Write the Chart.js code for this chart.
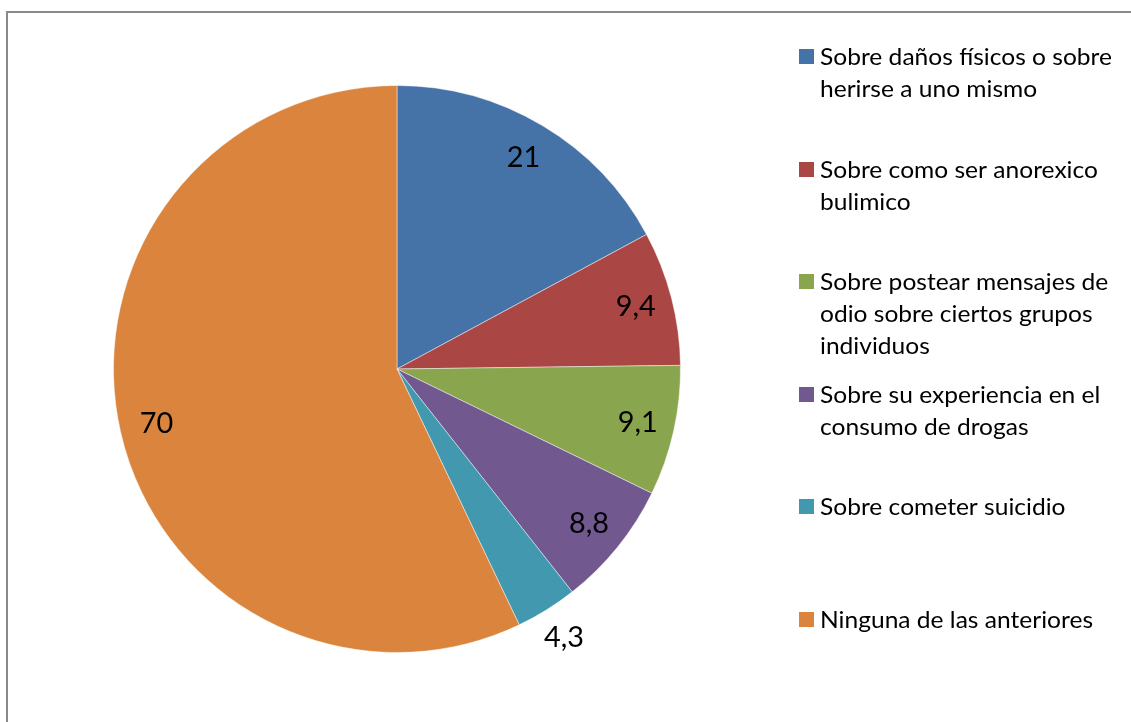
<!DOCTYPE html>
<html>
<head>
<meta charset="utf-8">
<script src="https://cdn.jsdelivr.net/npm/chart.js@4/dist/chart.umd.min.js"></script>
<style>
  html, body { margin: 0; padding: 0; background: #ffffff; }
  #wrap { width: 1131px; height: 722px; }
</style>
</head>
<body>
<div id="wrap"><canvas id="pie" width="1131" height="722"></canvas></div>
<script>
// Categories (legend text, pre-broken into lines) and their values
const categories = [
  ['Sobre daños físicos o sobre', 'herirse a uno mismo'],
  ['Sobre como ser anorexico', 'bulimico'],
  ['Sobre postear mensajes de', 'odio sobre ciertos grupos', 'individuos'],
  ['Sobre su experiencia en el', 'consumo de drogas'],
  ['Sobre cometer suicidio'],
  ['Ninguna de las anteriores']
];
const values = [21, 9.4, 9.1, 8.8, 4.3, 70];
const sliceColors = ['#4572A7', '#AA4643', '#89A54E', '#71588F', '#4198AF', '#DB843D'];

const FONT_FAMILY = 'Lato, "Open Sans", sans-serif';
const LEGEND_FONT = '23px ' + FONT_FAMILY;
const LABEL_FONT = '29px ' + FONT_FAMILY;

// Horizontal scale so a text sample takes the wanted width
function fitFactor(ctx, font, sample, width) {
  ctx.save();
  ctx.font = font;
  const w = ctx.measureText(sample).width;
  ctx.restore();
  return width / w;
}

function drawScaled(ctx, text, x, y, f, align) {
  ctx.save();
  ctx.translate(x, y);
  ctx.scale(f, 1);
  ctx.textAlign = align || 'left';
  ctx.fillText(text, 0, 0);
  ctx.restore();
}

const formatValue = v => String(v).replace('.', ',');

// Outer frame of the chart area
const framePlugin = {
  id: 'frame',
  beforeDraw(chart) {
    const ctx = chart.ctx;
    ctx.save();
    ctx.fillStyle = '#ffffff';
    ctx.fillRect(0, 0, chart.width, chart.height);
    ctx.strokeStyle = '#898989';
    ctx.lineWidth = 2;
    ctx.strokeRect(7, 12, chart.width + 20, chart.height + 20);
    ctx.restore();
  }
};

// Value labels: inside the slice, or just outside for thin slices
const valueLabelPlugin = {
  id: 'valueLabels',
  afterDatasetsDraw(chart) {
    const ctx = chart.ctx;
    const meta = chart.getDatasetMeta(0);
    const data = chart.data.datasets[0].data;
    const total = data.reduce((a, b) => a + b, 0);
    const f = fitFactor(ctx, LABEL_FONT, '4,3', 40);
    ctx.save();
    ctx.font = LABEL_FONT;
    ctx.fillStyle = '#000000';
    ctx.textBaseline = 'middle';
    meta.data.forEach((arc, i) => {
      const p = arc.getProps(['x', 'y', 'startAngle', 'endAngle', 'outerRadius'], true);
      const mid = (p.startAngle + p.endAngle) / 2;
      const share = data[i] / total;
      const r = share < 0.05 ? p.outerRadius + 33 : p.outerRadius * 0.87;
      const lx = p.x + Math.cos(mid) * r;
      const ly = p.y + Math.sin(mid) * r;
      drawScaled(ctx, formatValue(data[i]), lx, ly, f, 'center');
    });
    ctx.restore();
  }
};

// Legend on the right: colour square followed by wrapped text
const legendPlugin = {
  id: 'sideLegend',
  afterDraw(chart) {
    const ctx = chart.ctx;
    const f = fitFactor(ctx, LEGEND_FONT, 'Sobre daños físicos o sobre', 292);
    const boxX = 799, firstTop = 49, step = 112.6, box = 15, textX = 820, lineH = 32;
    ctx.save();
    ctx.font = LEGEND_FONT;
    ctx.textBaseline = 'alphabetic';
    chart.data.labels.forEach((lines, i) => {
      const top = firstTop + i * step;
      ctx.fillStyle = sliceColors[i];
      ctx.fillRect(boxX, Math.round(top), box, box);
      ctx.fillStyle = '#000000';
      lines.forEach((line, j) => {
        drawScaled(ctx, line, textX, top + box + 1 + j * lineH, f, 'left');
      });
    });
    ctx.restore();
  }
};

new Chart(document.getElementById('pie'), {
  type: 'pie',
  data: {
    labels: categories,
    datasets: [{
      data: values,
      backgroundColor: sliceColors,
      borderColor: 'rgba(255,255,255,0.45)',
      borderWidth: 1,
      hoverOffset: 0,
      offset: 0
    }]
  },
  options: {
    responsive: false,
    animation: false,
    devicePixelRatio: 1,
    layout: { padding: { left: 113, top: 85, right: 450, bottom: 69 } },
    plugins: {
      legend: { display: false },
      tooltip: { enabled: false },
      title: { display: false }
    },
    events: []
  },
  plugins: [framePlugin, valueLabelPlugin, legendPlugin]
});
</script>
</body>
</html>
